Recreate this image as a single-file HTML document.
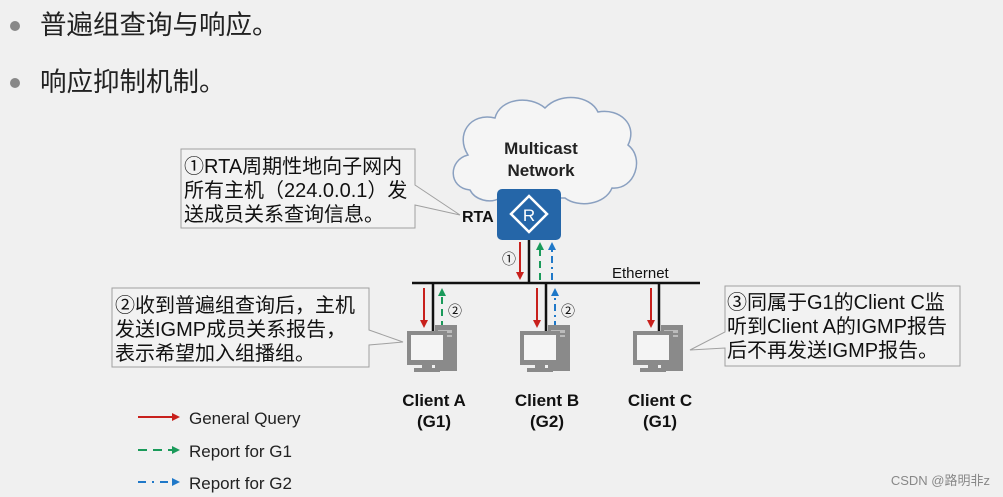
<!DOCTYPE html>
<html><head><meta charset="utf-8"><style>
html,body{margin:0;padding:0;background:#f0f0f0;}
svg{display:block;font-family:"Liberation Sans","Noto Sans CJK SC",sans-serif;}
</style></head><body>
<svg width="1003" height="497" viewBox="0 0 1003 497" xmlns="http://www.w3.org/2000/svg">
<defs>
<marker id="mr" markerWidth="8" markerHeight="8" refX="6" refY="4" orient="auto" markerUnits="userSpaceOnUse"><path d="M0,0 L8,4 L0,8 z" fill="#c8201c"/></marker>
<marker id="mg" markerWidth="8" markerHeight="8" refX="6" refY="4" orient="auto" markerUnits="userSpaceOnUse"><path d="M0,0 L8,4 L0,8 z" fill="#1a9a5a"/></marker>
<marker id="mb" markerWidth="8" markerHeight="8" refX="6" refY="4" orient="auto" markerUnits="userSpaceOnUse"><path d="M0,0 L8,4 L0,8 z" fill="#1f78c8"/></marker>
<g id="pc">
<rect x="-12" y="-6" width="22" height="46" fill="#8a8a8a"/>
<rect x="-9" y="-1" width="14" height="3" fill="#bbb"/>
<rect x="-9" y="4" width="14" height="2" fill="#bbb"/>
<rect x="-40" y="0" width="40" height="34" fill="#8a8a8a"/>
<rect x="-36" y="4" width="32" height="25" fill="#f4f4f4"/>
<rect x="-25" y="34" width="10" height="5" fill="#8a8a8a"/>
<rect x="-33" y="37" width="26" height="4" fill="#8a8a8a"/>
</g>
</defs>
<circle cx="15" cy="26" r="5" fill="#888"/>
<text x="40" y="34" font-size="26.5" fill="#222">普遍组查询与响应。</text>
<circle cx="15" cy="83" r="5" fill="#888"/>
<text x="40" y="91" font-size="26.5" fill="#222">响应抑制机制。</text>

<path d="M470,190 C448,188 448,160 468,155 C455,135 470,112 495,118 C500,98 530,95 545,108 C560,92 590,95 598,112 C620,108 638,125 628,145 C645,158 635,190 612,188 C605,205 578,208 565,198 L500,198 C490,204 475,200 470,190 z" fill="#f5f5f5" stroke="#8aa0c0" stroke-width="1.5"/>
<text x="541" y="154" font-size="17" font-weight="bold" text-anchor="middle" fill="#222">Multicast</text>
<text x="541" y="176" font-size="17" font-weight="bold" text-anchor="middle" fill="#222">Network</text>
<rect x="497" y="189" width="64" height="51" rx="5" fill="#2566a8"/>
<path d="M529,196 L547,214 L529,232 L511,214 z" fill="none" stroke="#fff" stroke-width="2.5"/>
<text x="529" y="221" font-size="17" text-anchor="middle" fill="#fff">R</text>
<text x="462" y="222" font-size="16" font-weight="bold" fill="#111">RTA</text>

<line x1="529" y1="240" x2="529" y2="283" stroke="#111" stroke-width="2.5"/>
<line x1="412" y1="283" x2="700" y2="283" stroke="#111" stroke-width="2.5"/>
<line x1="433" y1="283" x2="433" y2="332" stroke="#111" stroke-width="2.5"/>
<line x1="546" y1="283" x2="546" y2="332" stroke="#111" stroke-width="2.5"/>
<line x1="659" y1="283" x2="659" y2="332" stroke="#111" stroke-width="2.5"/>
<text x="612" y="278" font-size="15" fill="#111">Ethernet</text>

<line x1="520" y1="242" x2="520" y2="278" stroke="#c8201c" stroke-width="2" marker-end="url(#mr)"/>
<line x1="540" y1="280" x2="540" y2="244" stroke="#1a9a5a" stroke-width="2" stroke-dasharray="7,5" marker-end="url(#mg)"/>
<line x1="552" y1="280" x2="552" y2="244" stroke="#1f78c8" stroke-width="2" stroke-dasharray="7,4,2,4" marker-end="url(#mb)"/>
<text x="509" y="264" font-size="14" text-anchor="middle" fill="#111">①</text>
<line x1="424" y1="288" x2="424" y2="326" stroke="#c8201c" stroke-width="2" marker-end="url(#mr)"/>
<line x1="442" y1="328" x2="442" y2="290" stroke="#1a9a5a" stroke-width="2" stroke-dasharray="7,5" marker-end="url(#mg)"/>
<text x="455" y="316" font-size="14" text-anchor="middle" fill="#111">②</text>
<line x1="537" y1="288" x2="537" y2="326" stroke="#c8201c" stroke-width="2" marker-end="url(#mr)"/>
<line x1="555" y1="328" x2="555" y2="290" stroke="#1f78c8" stroke-width="2" stroke-dasharray="7,4,2,4" marker-end="url(#mb)"/>
<text x="568" y="316" font-size="14" text-anchor="middle" fill="#111">②</text>
<line x1="651" y1="288" x2="651" y2="326" stroke="#c8201c" stroke-width="2" marker-end="url(#mr)"/>

<use href="#pc" x="447" y="331"/>
<use href="#pc" x="560" y="331"/>
<use href="#pc" x="673" y="331"/>

<g font-size="17" font-weight="bold" text-anchor="middle" fill="#111">
<text x="434" y="406">Client A</text><text x="434" y="427">(G1)</text>
<text x="547" y="406">Client B</text><text x="547" y="427">(G2)</text>
<text x="660" y="406">Client C</text><text x="660" y="427">(G1)</text>
</g>

<path d="M181,149 L415,149 L415,185 L460,215 L415,205 L415,228 L181,228 z" fill="#f2f2f2" stroke="#a0a0a0" stroke-width="1"/>
<g font-size="20" fill="#111">
<text x="184" y="173">①RTA周期性地向子网内</text>
<text x="184" y="197">所有主机（224.0.0.1）发</text>
<text x="184" y="221">送成员关系查询信息。</text>
</g>
<path d="M112,288 L369,288 L369,330 L403,342 L369,345 L369,367 L112,367 z" fill="#f2f2f2" stroke="#a0a0a0" stroke-width="1"/>
<g font-size="20" fill="#111">
<text x="115" y="312">②收到普遍组查询后，主机</text>
<text x="115" y="336">发送IGMP成员关系报告，</text>
<text x="115" y="360">表示希望加入组播组。</text>
</g>
<path d="M725,286 L960,286 L960,366 L725,366 L725,348 L690,350 L725,332 z" fill="#f2f2f2" stroke="#a0a0a0" stroke-width="1"/>
<g font-size="20" fill="#111">
<text x="727" y="309">③同属于G1的Client C监</text>
<text x="727" y="333">听到Client A的IGMP报告</text>
<text x="727" y="357">后不再发送IGMP报告。</text>
</g>

<line x1="138" y1="417" x2="178" y2="417" stroke="#c8201c" stroke-width="2" marker-end="url(#mr)"/>
<text x="189" y="424" font-size="17" fill="#222">General Query</text>
<line x1="138" y1="450" x2="178" y2="450" stroke="#1a9a5a" stroke-width="2" stroke-dasharray="9,6" marker-end="url(#mg)"/>
<text x="189" y="457" font-size="17" fill="#222">Report for G1</text>
<line x1="138" y1="482" x2="178" y2="482" stroke="#1f78c8" stroke-width="2" stroke-dasharray="8,6,2,6" marker-end="url(#mb)"/>
<text x="189" y="489" font-size="17" fill="#222">Report for G2</text>

<text x="990" y="485" font-size="13" text-anchor="end" fill="#888">CSDN @路明非z</text>
</svg>
</body></html>
